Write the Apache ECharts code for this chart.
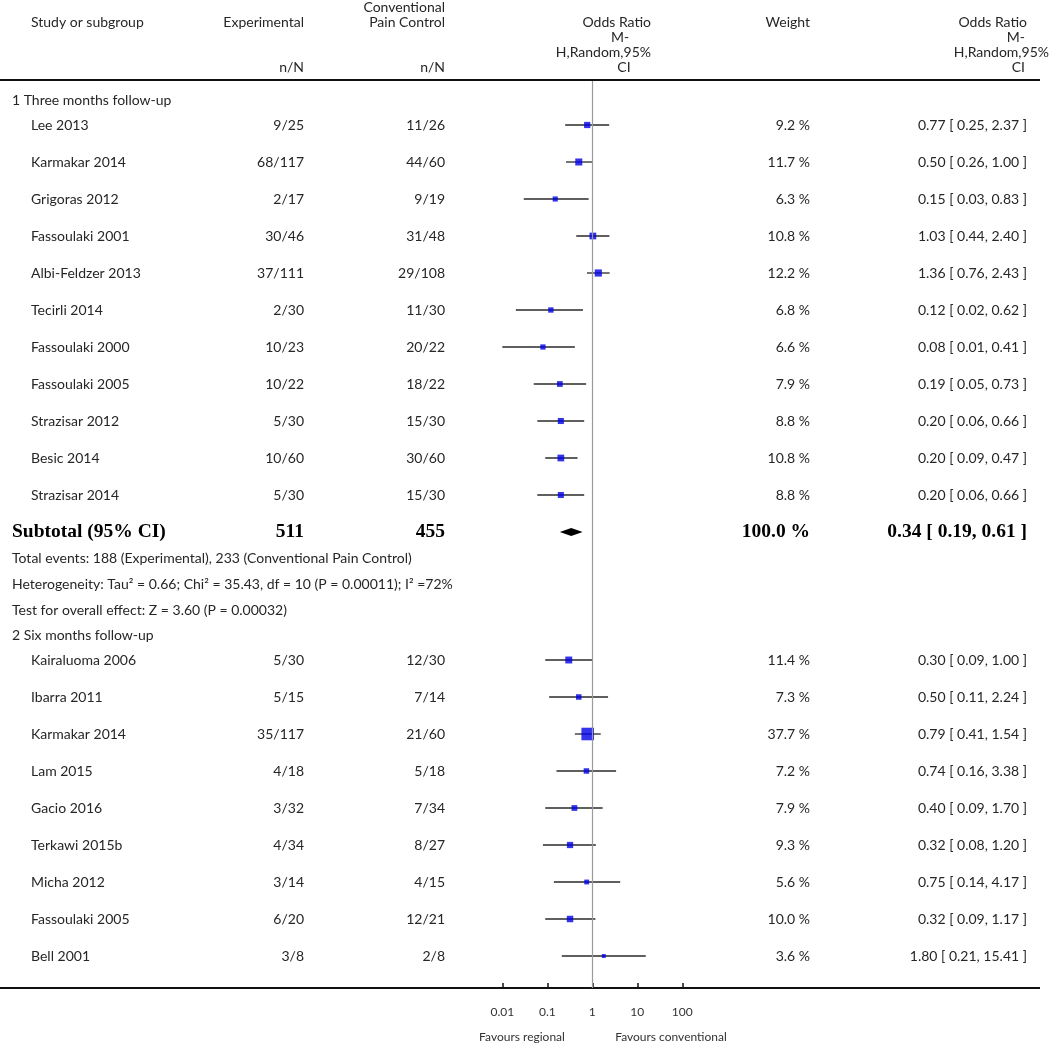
<!DOCTYPE html>
<html><head><meta charset="utf-8">
<script src="https://cdn.jsdelivr.net/npm/echarts@6/dist/echarts.min.js"></script>
<style>html,body{margin:0;padding:0;background:#fff}#c{width:1050px;height:1045px}</style>
</head><body><div id="c"></div>
<script>
// ---------- DATA ----------
const group1Title = '1 Three months follow-up';
const group1Studies = ['Lee 2013','Karmakar 2014','Grigoras 2012','Fassoulaki 2001','Albi-Feldzer 2013','Tecirli 2014','Fassoulaki 2000','Fassoulaki 2005','Strazisar 2012','Besic 2014','Strazisar 2014'];
const group1Exp = ['9/25','68/117','2/17','30/46','37/111','2/30','10/23','10/22','5/30','10/60','5/30'];
const group1Ctl = ['11/26','44/60','9/19','31/48','29/108','11/30','20/22','18/22','15/30','30/60','15/30'];
const group1Weight = [9.2,11.7,6.3,10.8,12.2,6.8,6.6,7.9,8.8,10.8,8.8];
const group1OR = [0.77,0.50,0.15,1.03,1.36,0.12,0.08,0.19,0.20,0.20,0.20];
const group1Lo = [0.25,0.26,0.03,0.44,0.76,0.02,0.01,0.05,0.06,0.09,0.06];
const group1Hi = [2.37,1.00,0.83,2.40,2.43,0.62,0.41,0.73,0.66,0.47,0.66];
const subtotalLabel = 'Subtotal (95% CI)';
const subtotalExp = '511';
const subtotalCtl = '455';
const subtotalWeight = 100.0;
const subtotalOR = 0.34, subtotalLo = 0.19, subtotalHi = 0.61;
const group1Notes = [
  'Total events: 188 (Experimental), 233 (Conventional Pain Control)',
  'Heterogeneity: Tau\u00B2 = 0.66; Chi\u00B2 = 35.43, df = 10 (P = 0.00011); I\u00B2 =72%',
  'Test for overall effect: Z = 3.60 (P = 0.00032)'
];
const group2Title = '2 Six months follow-up';
const group2Studies = ['Kairaluoma 2006','Ibarra 2011','Karmakar 2014','Lam 2015','Gacio 2016','Terkawi 2015b','Micha 2012','Fassoulaki 2005','Bell 2001'];
const group2Exp = ['5/30','5/15','35/117','4/18','3/32','4/34','3/14','6/20','3/8'];
const group2Ctl = ['12/30','7/14','21/60','5/18','7/34','8/27','4/15','12/21','2/8'];
const group2Weight = [11.4,7.3,37.7,7.2,7.9,9.3,5.6,10.0,3.6];
const group2OR = [0.30,0.50,0.79,0.74,0.40,0.32,0.75,0.32,1.80];
const group2Lo = [0.09,0.11,0.41,0.16,0.09,0.08,0.14,0.09,0.21];
const group2Hi = [1.00,2.24,1.54,3.38,1.70,1.20,4.17,1.17,15.41];
const xTicks = [0.01,0.1,1,10,100];
const xMin = 0.01, xMax = 100;
const leftLabel = 'Favours regional';
const rightLabel = 'Favours conventional';
const headers = {
  study: 'Study or subgroup', exp: 'Experimental', ctl1: 'Conventional', ctl2: 'Pain Control',
  or: ['Odds Ratio','M-','H,Random,95%','CI'], weight: 'Weight', nN: 'n/N'
};

// ---------- LAYOUT ----------
const FONT = 'Lato';
const TXT = '#262626';
const STEP = 37; // px per study row
const gridTop = 81, gridBottom = 57, H = 1045;
const plotH = H - gridTop - gridBottom;
const colStudy = 31, colTitle = 12, colExp = 304, colCtl = 445, colW = 810, colOR = 1027;

const rows = [];
let pos = 19;
function push(r, gap){ pos += (rows.length ? gap : 0); r.y = pos / STEP; rows.push(r); }
rows.push({type:'title', text: group1Title, y: pos/STEP});
group1Studies.forEach((s,i)=>push({type:'study', name:s, exp:group1Exp[i], ctl:group1Ctl[i], w:group1Weight[i], or:group1OR[i], lo:group1Lo[i], hi:group1Hi[i]}, i===0?25:37));
push({type:'subtotal', name:subtotalLabel, exp:subtotalExp, ctl:subtotalCtl, w:subtotalWeight, or:subtotalOR, lo:subtotalLo, hi:subtotalHi}, 37);
group1Notes.forEach(t=>push({type:'note', text:t}, 26));
push({type:'title', text: group2Title}, 25);
group2Studies.forEach((s,i)=>push({type:'study', name:s, exp:group2Exp[i], ctl:group2Ctl[i], w:group2Weight[i], or:group2OR[i], lo:group2Lo[i], hi:group2Hi[i]}, i===0?25:37));

const fmt = v => v.toFixed(2);
const orText = r => fmt(r.or) + ' [ ' + fmt(r.lo) + ', ' + fmt(r.hi) + ' ]';

const studies = rows.filter(r=>r.type==='study');
const sub = rows.filter(r=>r.type==='subtotal');

function txt(x, y, text, align, opt){
  opt = opt || {};
  return {type:'text', x:x, y:y, silent:true, style:{text:text, fill:opt.fill||TXT, font:opt.font||('14px ' + FONT), align:align, verticalAlign:'middle'}};
}

const chart = echarts.init(document.getElementById('c'), null, {renderer:'canvas'});
const option = {
  animation:false,
  backgroundColor:'#fff',
  grid:{left:502.3, right:1050-682.3, top:gridTop, bottom:gridBottom},
  xAxis:{type:'log', logBase:10, min:xMin, max:xMax, position:'bottom',
    axisLine:{show:false, onZero:false},
    axisTick:{show:true, inside:true, length:5, lineStyle:{color:'#111', width:1.5}},
    axisLabel:{color:'#333', fontSize:12, fontFamily:FONT, margin:18},
    splitLine:{show:false}},
  yAxis:{type:'value', min:0, max:plotH/STEP, inverse:true, show:false},
  series:[
    { // reference line at OR = 1
      type:'line', data:[], silent:true,
      markLine:{silent:true, symbol:'none', label:{show:false},
        lineStyle:{color:'#9a9a9a', width:1.2, type:'solid'},
        data:[{xAxis:1}]}
    },
    { // CI whiskers
      type:'custom', silent:true,
      data: studies.map(r=>[r.lo, r.hi, r.y]),
      renderItem:(params, api)=>{
        const a = api.coord([api.value(0), api.value(2)]);
        const b = api.coord([api.value(1), api.value(2)]);
        return {type:'line', shape:{x1:a[0], y1:a[1], x2:b[0], y2:b[1]}, style:{stroke:'#2a2a2a', lineWidth:1.3}};
      }
    },
    { // study squares
      type:'scatter', silent:true, symbol:'rect',
      data: studies.map(r=>[r.or, r.y, r.w]),
      symbolSize: v => 2.05*Math.sqrt(v[2]),
      itemStyle:{color:'#0000e6'}
    },
    { // subtotal diamond
      type:'custom', silent:true,
      data: sub.map(r=>[r.lo, r.or, r.hi, r.y]),
      renderItem:(params, api)=>{
        const y = api.value(3);
        const l = api.coord([api.value(0), y]);
        const m = api.coord([api.value(1), y]);
        const r = api.coord([api.value(2), y]);
        const h = 4;
        return {type:'polygon', shape:{points:[[l[0],l[1]],[m[0],m[1]-h],[r[0],r[1]],[m[0],m[1]+h]]}, style:{fill:'#000'}};
      }
    },
    { // table text
      type:'custom', silent:true, clip:false,
      data: rows.map((r,i)=>[1, r.y, i]),
      renderItem:(params, api)=>{
        const r = rows[api.value(2)];
        const y = api.coord([1, api.value(1)])[1];
        const ch = [];
        if (r.type==='title' || r.type==='note') {
          ch.push(txt(colTitle, y, r.text, 'left'));
        } else if (r.type==='study') {
          ch.push(txt(colStudy, y, r.name, 'left'));
          ch.push(txt(colExp, y, r.exp, 'right'));
          ch.push(txt(colCtl, y, r.ctl, 'right'));
          ch.push(txt(colW, y, r.w.toFixed(1) + ' %', 'right'));
          ch.push(txt(colOR, y, orText(r), 'right'));
        } else if (r.type==='subtotal') {
          const f = 'bold 19.5px "Liberation Serif"';
          ch.push(txt(colTitle, y, r.name, 'left', {font:f, fill:'#000'}));
          ch.push(txt(colExp, y, r.exp, 'right', {font:f, fill:'#000'}));
          ch.push(txt(colCtl, y, r.ctl, 'right', {font:f, fill:'#000'}));
          ch.push(txt(colW, y, r.w.toFixed(1) + ' %', 'right', {font:f, fill:'#000'}));
          ch.push(txt(colOR, y, orText(r), 'right', {font:f, fill:'#000'}));
        }
        return {type:'group', children:ch};
      }
    }
  ],
  graphic:[
    {type:'line', silent:true, shape:{x1:0, y1:80, x2:1040, y2:80}, style:{stroke:'#111', lineWidth:2}},
    {type:'line', silent:true, shape:{x1:0, y1:988, x2:1040, y2:988}, style:{stroke:'#111', lineWidth:2}},
    txt(colStudy, 22, headers.study, 'left'),
    txt(colExp, 22, headers.exp, 'right'),
    txt(colCtl, 7, headers.ctl1, 'right'),
    txt(colCtl, 22, headers.ctl2, 'right'),
    txt(colExp, 67, headers.nN, 'right'),
    txt(colCtl, 67, headers.nN, 'right'),
    txt(651, 22, headers.or[0], 'right'),
    txt(620, 37, headers.or[1], 'center'),
    txt(651, 52, headers.or[2], 'right'),
    txt(624, 67, headers.or[3], 'center'),
    txt(colW, 22, headers.weight, 'right'),
    txt(colOR, 22, headers.or[0], 'right'),
    txt(colOR - 2, 37, headers.or[1], 'right'),
    txt(1049, 52, headers.or[2], 'right'),
    txt(colOR - 2, 67, headers.or[3], 'right'),
    txt(522, 1037, leftLabel, 'center', {font:'12px ' + FONT, fill:'#333'}),
    txt(671, 1037, rightLabel, 'center', {font:'12px ' + FONT, fill:'#333'})
  ]
};
chart.setOption(option);
</script>
</body></html>
